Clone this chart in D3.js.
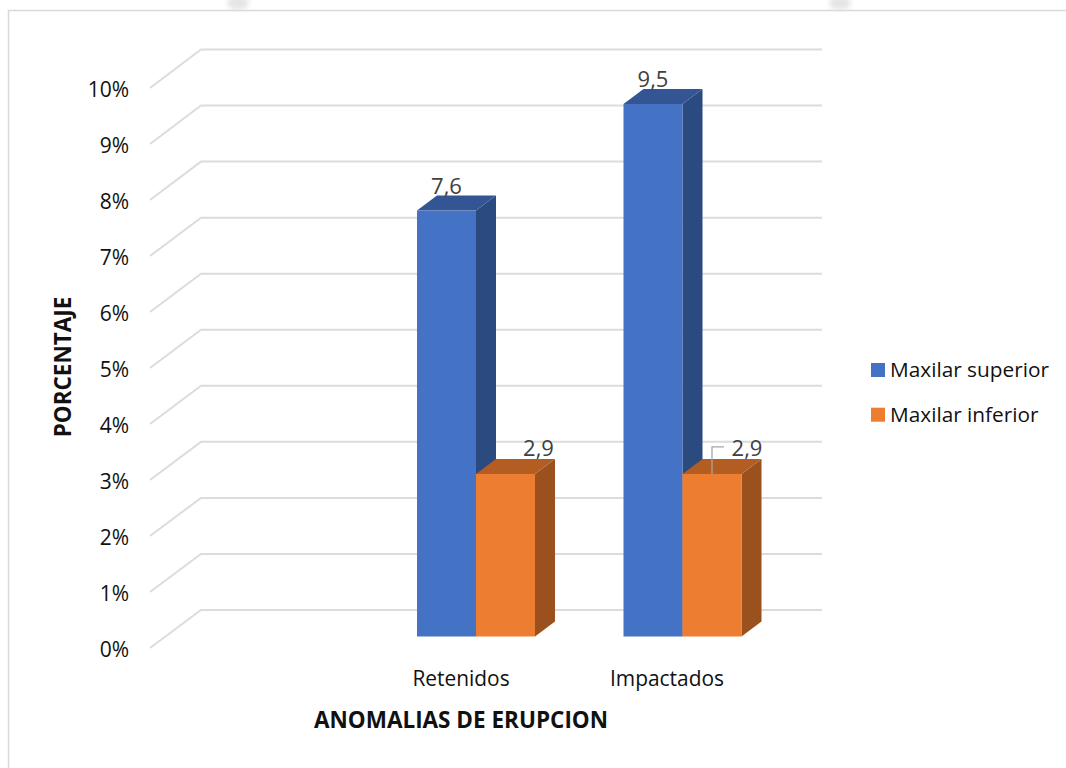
<!DOCTYPE html>
<html>
<head>
<meta charset="utf-8">
<script src="https://cdn.jsdelivr.net/npm/d3@7/dist/d3.min.js"></script>
<style>
html,body{margin:0;padding:0;background:#fff;overflow:hidden}
svg{display:block}
text{font-family:"Open Sans","Noto Sans",sans-serif}
</style>
</head>
<body>
<svg id="c" width="1066" height="768"></svg>
<script>
const categories = ["Retenidos", "Impactados"];
const seriesNames = ["Maxilar superior", "Maxilar inferior"];
const maxilarSuperior = [7.6, 9.5];
const maxilarInferior = [2.9, 2.9];
const valueLabels = [["7,6", "9,5"], ["2,9", "2,9"]];
const tickValues = [0,1,2,3,4,5,6,7,8,9,10];
const frontColors = ["#4472c4", "#ed7d31"];
const topColors = ["#345593", "#b35d22"];
const sideColors = ["#2b4a80", "#9a511d"];

const svg = d3.select("#c");
const TEXT = "#111";

// faint page watermark remnants above the frame
const blur = svg.append("defs").append("filter").attr("id","b");
blur.append("feGaussianBlur").attr("stdDeviation",2.5);
[238,840].forEach(cx=>svg.append("ellipse").attr("cx",cx).attr("cy",3).attr("rx",11).attr("ry",7)
  .attr("fill","#e4e6e4").attr("filter","url(#b)"));

svg.append("path").attr("d","M1066,10.5H8.5V768").attr("fill","none").attr("stroke","#d9d9d9").attr("stroke-width",1.5);

const yFront = d3.scaleLinear().domain([0,10]).range([648,88]);
const yBack = d3.scaleLinear().domain([0,10]).range([610,49.5]);
const yBar = d3.scaleLinear().domain([0,10]).range([636.5,76]);
const groupLeft = {Retenidos:417, Impactados:623.5};
const barW = 59, dx = 20, dy = -15;

svg.append("g").selectAll("path").data(tickValues).join("path")
  .attr("d", v => `M150,${yFront(v)}L201,${yBack(v)}H822`)
  .attr("fill","none").attr("stroke","#dcdcdc").attr("stroke-width",2);

svg.append("g").selectAll("text").data(tickValues).join("text")
  .attr("x",129).attr("y",v=>yFront(v)+8.5).attr("text-anchor","end")
  .attr("font-size",21).attr("fill",TEXT).text(v=>v+"%");

const series = [maxilarSuperior, maxilarInferior];
const bars = [];
categories.forEach((c,i)=>series.forEach((s,j)=>bars.push({c,i,j,v:s[i]})));
const g = svg.append("g");
bars.forEach(b=>{
  const x = groupLeft[b.c] + b.j*barW, y = yBar(b.v), y0 = yBar(0);
  g.append("path").attr("d",`M${x+barW},${y}l${dx},${dy}V${y0+dy}l${-dx},${-dy}Z`).attr("fill",sideColors[b.j]);
  g.append("path").attr("d",`M${x},${y}l${dx},${dy}h${barW}l${-dx},${-dy}Z`).attr("fill",topColors[b.j]);
  g.append("rect").attr("x",x).attr("y",y).attr("width",barW).attr("height",y0-y).attr("fill",frontColors[b.j]);
});

bars.forEach(b=>{
  const x = groupLeft[b.c] + b.j*barW, y = yBar(b.v);
  let lx = x + barW/2 + (b.j===1 ? (b.i===1 ? 35 : 33) : 0), ly = y - 17 + (b.j===1 ? -1 : 0);
  svg.append("text").attr("x",lx).attr("y",ly).attr("text-anchor","middle")
    .attr("font-size",22).attr("fill","#404040").text(valueLabels[b.j][b.i]);
});
{
  const x = groupLeft.Impactados + barW*1.5, y = yBar(maxilarInferior[1]);
  svg.append("path").attr("d",`M${x},${y}V${y-27}H${x+12}`).attr("fill","none").attr("stroke","#a6a6a6").attr("stroke-width",1.3);
}

svg.append("g").selectAll("text").data(categories).join("text")
  .attr("x",(d,i)=>i===0?461:667).attr("y",686).attr("text-anchor","middle")
  .attr("font-size",20.9).attr("fill",TEXT).text(d=>d);

svg.append("text").attr("x",461).attr("y",728).attr("text-anchor","middle")
  .attr("font-size",22.5).attr("font-weight",700).attr("fill",TEXT).text("ANOMALIAS DE ERUPCION");
svg.append("text").attr("transform","translate(71,367) rotate(-90)").attr("text-anchor","middle")
  .attr("font-size",22.5).attr("font-weight",700).attr("fill",TEXT).text("PORCENTAJE");

const legendY = [370,414.7];
seriesNames.forEach((n,i)=>{
  svg.append("rect").attr("x",871).attr("y",legendY[i]-7).attr("width",14).attr("height",14).attr("fill",frontColors[i]);
  svg.append("text").attr("x",890).attr("y",legendY[i]+7).attr("font-size",20.8).attr("fill",TEXT).text(n);
});
</script>
</body>
</html>
